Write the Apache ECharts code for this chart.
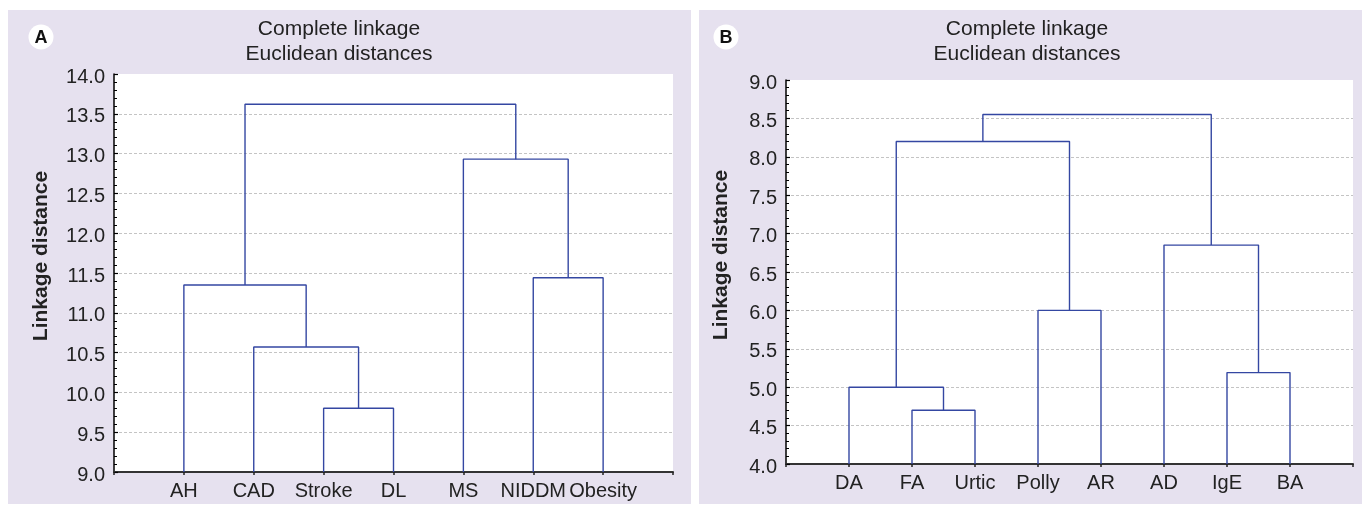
<!DOCTYPE html>
<html><head><meta charset="utf-8">
<script src="https://cdn.jsdelivr.net/npm/echarts@6/dist/echarts.min.js"></script>
<style>html,body{margin:0;padding:0;background:#fff}#c{width:1362px;height:507px}</style>
</head><body><div id="c"></div>
<script>
// ---- data ----
const leavesA = ['AH', 'CAD', 'Stroke', 'DL', 'MS', 'NIDDM', 'Obesity'];
// [left node, right node, linkage distance]; new nodes numbered after the leaves
const mergesA = [[2, 3, 9.80], [1, 7, 10.57], [0, 8, 11.35], [5, 6, 11.44], [4, 10, 12.93], [9, 11, 13.62]];
const yRangeA = [9.0, 14.0];

const leavesB = ['DA', 'FA', 'Urtic', 'Polly', 'AR', 'AD', 'IgE', 'BA'];
const mergesB = [[1, 2, 4.70], [0, 8, 5.00], [3, 4, 6.00], [6, 7, 5.19], [5, 11, 6.85], [9, 10, 8.20], [13, 12, 8.55]];
const yRangeB = [4.0, 9.0];

const yStep = 0.5;
const titleLines = ['Complete linkage', 'Euclidean distances'];
const yAxisName = 'Linkage distance';
const panelLetters = ['A', 'B'];

// ---- style ----
const FONT = "'Liberation Sans', Arial, Helvetica, sans-serif";
const LINK_COLOR = '#3447a2';
const TEXT = '#222';

function linkSeries(leaves, merges, base, idx) {
  const nodes = leaves.map((_, i) => ({ x: i + 1, h: base }));
  const out = [];
  merges.forEach(([a, b, h]) => {
    const L = nodes[a], R = nodes[b];
    out.push({
      type: 'line', xAxisIndex: idx, yAxisIndex: idx,
      data: [[L.x, L.h], [L.x, h], [R.x, h], [R.x, R.h]],
      symbol: 'none', silent: true, animation: false, z: 3,
      lineStyle: { color: LINK_COLOR, width: 1.4 }
    });
    nodes.push({ x: (L.x + R.x) / 2, h: h });
  });
  return out;
}

function xAxis(leaves, idx) {
  return {
    type: 'value', gridIndex: idx, min: 0, max: leaves.length + 1, interval: 1,
    axisLine: { show: true, onZero: false, lineStyle: { color: '#333', width: 2 } },
    axisTick: { show: true, length: 3, lineStyle: { color: '#222', width: 1.5 } },
    axisLabel: {
      margin: 9, color: TEXT, fontSize: 20, fontFamily: FONT,
      formatter: v => leaves[v - 1] || ''
    },
    splitLine: { show: false }
  };
}

function yAxis(range, idx, gap) {
  return {
    type: 'value', gridIndex: idx, min: range[0], max: range[1], interval: yStep,
    name: yAxisName, nameLocation: 'middle', nameRotate: 90, nameGap: gap,
    nameTextStyle: { fontSize: 21, fontWeight: 'bold', color: TEXT, fontFamily: FONT, padding: [0, 0, 0, 34] },
    axisLine: { show: true, lineStyle: { color: '#000', width: 1.5 } },
    axisTick: { show: true, inside: true, length: 4, lineStyle: { color: '#000', width: 1.2 } },
    minorTick: { show: true, splitNumber: 5, length: 3, lineStyle: { color: '#000', width: 1 } },
    axisLabel: {
      margin: 9, color: TEXT, fontSize: 20, fontFamily: FONT,
      verticalAlign: 'top', lineHeight: 6,
      formatter: v => v.toFixed(1)
    },
    splitLine: { show: true, showMinLine: false, showMaxLine: false, lineStyle: { color: '#c4c4c4', type: [3, 2], width: 1 } }
  };
}

const chart = echarts.init(document.getElementById('c'), null, { renderer: 'canvas' });
const titleStyle = { fontSize: 21, fontWeight: 'normal', color: TEXT, lineHeight: 25, fontFamily: FONT };
chart.setOption({
  animation: false,
  backgroundColor: '#fff',
  title: [
    { text: titleLines.join('\n'), left: 339, top: 17, textAlign: 'center', padding: 0, textStyle: titleStyle },
    { text: titleLines.join('\n'), left: 1027, top: 17, textAlign: 'center', padding: 0, textStyle: titleStyle }
  ],
  graphic: [
    { type: 'rect', z: -10, shape: { x: 8, y: 10, width: 683, height: 494 }, style: { fill: '#e6e1ef' } },
    { type: 'rect', z: -10, shape: { x: 699, y: 10, width: 663, height: 494 }, style: { fill: '#e6e1ef' } },
    { type: 'circle', z: 5, shape: { cx: 41, cy: 37, r: 12.5 }, style: { fill: '#fff' } },
    { type: 'circle', z: 5, shape: { cx: 726, cy: 37, r: 12.5 }, style: { fill: '#fff' } },
    { type: 'text', z: 6, x: 41, y: 38, style: { text: panelLetters[0], font: 'bold 18px ' + FONT, fill: '#111', align: 'center', verticalAlign: 'middle', textAlign: 'center', textVerticalAlign: 'middle' } },
    { type: 'text', z: 6, x: 726, y: 38, style: { text: panelLetters[1], font: 'bold 18px ' + FONT, fill: '#111', align: 'center', verticalAlign: 'middle', textAlign: 'center', textVerticalAlign: 'middle' } }
  ],
  grid: [
    { left: 114, top: 74, width: 559, height: 398, show: true, backgroundColor: '#fff', borderWidth: 0, containLabel: false, outerBoundsMode: 'none' },
    { left: 786, top: 80, width: 567, height: 384, show: true, backgroundColor: '#fff', borderWidth: 0, containLabel: false, outerBoundsMode: 'none' }
  ],
  xAxis: [xAxis(leavesA, 0), xAxis(leavesB, 1)],
  yAxis: [yAxis(yRangeA, 0, 62), yAxis(yRangeB, 1, 54)],
  series: [].concat(
    linkSeries(leavesA, mergesA, yRangeA[0], 0),
    linkSeries(leavesB, mergesB, yRangeB[0], 1)
  )
});
</script>
</body></html>
